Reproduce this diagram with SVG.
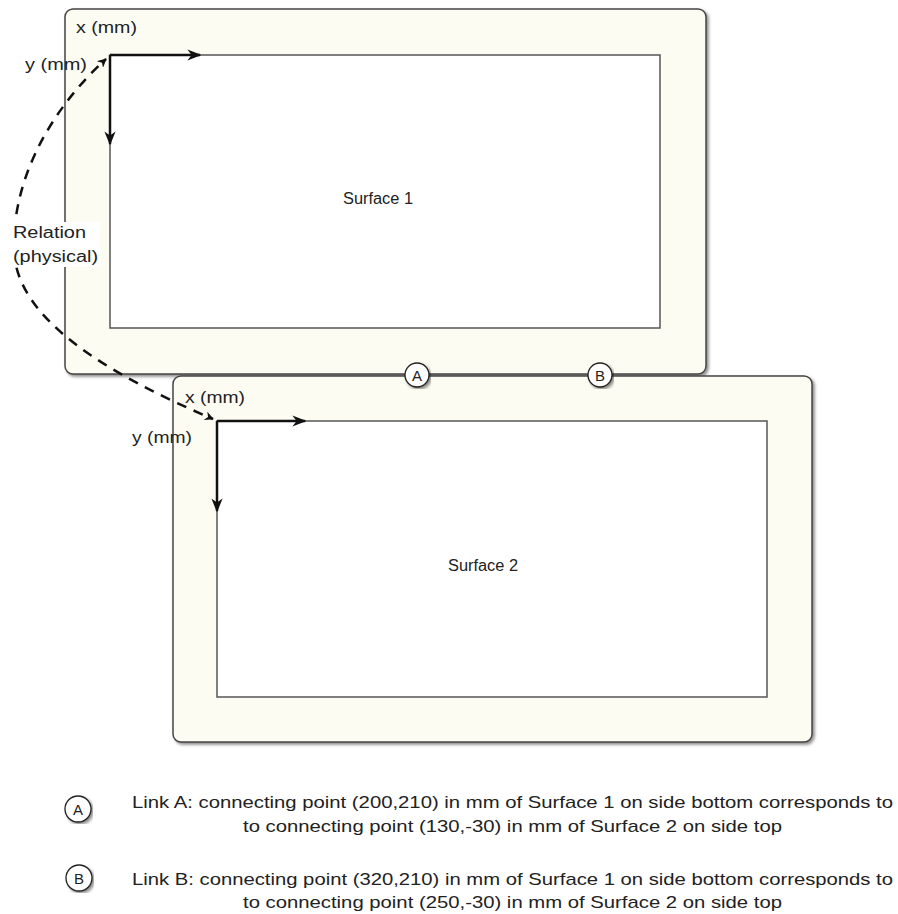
<svg xmlns="http://www.w3.org/2000/svg" width="898" height="914" viewBox="0 0 898 914">
<defs>
<filter id="sh" x="-5%" y="-5%" width="110%" height="110%">
<feDropShadow dx="2" dy="2" stdDeviation="1.5" flood-color="#000" flood-opacity="0.45"/>
</filter>
<marker id="ah" viewBox="0 0 10 10" refX="9" refY="5" markerWidth="9" markerHeight="9" orient="auto" markerUnits="userSpaceOnUse">
<path d="M0,0 L10,5 L0,10 L3,5 Z" fill="#111"/>
</marker>
<marker id="ax" viewBox="0 0 10 10" refX="9" refY="5" markerWidth="14" markerHeight="14" orient="auto" markerUnits="userSpaceOnUse">
<path d="M0,1 L10,5 L0,9 L3,5 Z" fill="#111"/>
</marker>
</defs>
<style>
.outer{fill:#fdfcf3;stroke:#444;stroke-width:1.5}
.inner{fill:#fff;stroke:#555;stroke-width:1.5}
.axis{stroke:#111;stroke-width:2.5;fill:none}
.t{font-family:"Liberation Sans",Arial,sans-serif;font-size:16px;fill:#222}
.lg{font-family:"Liberation Sans",Arial,sans-serif;font-size:17px;fill:#222}
.cl{font-family:"Liberation Sans",Arial,sans-serif;font-size:15px;fill:#222}
.circ{fill:#fff;stroke:#222;stroke-width:1.3}
.dash{fill:none;stroke:#111;stroke-width:2.5;stroke-dasharray:10,8}
</style>
<g id="surface1">
<rect class="outer" x="65" y="9" width="641" height="365" rx="8" filter="url(#sh)"/>
<rect class="inner" x="110" y="55" width="550" height="273"/>
<text class="t" x="343" y="204" textLength="70" lengthAdjust="spacingAndGlyphs">Surface 1</text>
<line class="axis" x1="110" y1="55" x2="200" y2="55" marker-end="url(#ax)"/>
<line class="axis" x1="110" y1="55" x2="110" y2="144" marker-end="url(#ax)"/>
<text class="t" x="76" y="33" textLength="61" lengthAdjust="spacingAndGlyphs">x (mm)</text>
<text class="t" x="25" y="70" textLength="62" lengthAdjust="spacingAndGlyphs">y (mm)</text>
</g>
<g id="surface2">
<rect class="outer" x="173" y="376" width="639" height="366" rx="8" filter="url(#sh)"/>
<rect class="inner" x="217" y="421" width="550" height="276"/>
<text class="t" x="448" y="571" textLength="70" lengthAdjust="spacingAndGlyphs">Surface 2</text>
<line class="axis" x1="217" y1="421" x2="305" y2="421" marker-end="url(#ax)"/>
<line class="axis" x1="217" y1="421" x2="217" y2="511" marker-end="url(#ax)"/>
<text class="t" x="185" y="403" textLength="60" lengthAdjust="spacingAndGlyphs">x (mm)</text>
<text class="t" x="132" y="443" textLength="60" lengthAdjust="spacingAndGlyphs">y (mm)</text>
</g>
<g id="connectors">
<path class="dash" d="M14,250 C12,180 50,110 106,59" marker-end="url(#ah)"/>
<path class="dash" d="M14,250 C16,320 110,375 213,419" marker-end="url(#ah)"/>
</g>
<g id="relation-label">
<rect x="10" y="222" width="90" height="45" fill="#fff"/>
<text class="t" x="13" y="238" textLength="73" lengthAdjust="spacingAndGlyphs">Relation</text>
<text class="t" x="13" y="262" textLength="85" lengthAdjust="spacingAndGlyphs">(physical)</text>
</g>
<g id="pointA">
<circle class="circ" cx="417" cy="375" r="12" filter="url(#sh)"/>
<text class="cl" x="417" y="380.5" text-anchor="middle">A</text>
</g>
<g id="pointB">
<circle class="circ" cx="600" cy="375" r="12" filter="url(#sh)"/>
<text class="cl" x="600" y="380.5" text-anchor="middle">B</text>
</g>
<g id="legendA">
<circle class="circ" cx="78" cy="809" r="13" filter="url(#sh)"/>
<text class="cl" x="78" y="814.5" text-anchor="middle">A</text>
<text class="lg" x="132" y="808" textLength="761" lengthAdjust="spacingAndGlyphs">Link A: connecting point (200,210) in mm of Surface 1 on side bottom corresponds to</text>
<text class="lg" x="243" y="832" textLength="539" lengthAdjust="spacingAndGlyphs">to connecting point (130,-30) in mm of Surface 2 on side top</text>
</g>
<g id="legendB">
<circle class="circ" cx="79" cy="878" r="13" filter="url(#sh)"/>
<text class="cl" x="79" y="883.5" text-anchor="middle">B</text>
<text class="lg" x="132" y="885" textLength="761" lengthAdjust="spacingAndGlyphs">Link B: connecting point (320,210) in mm of Surface 1 on side bottom corresponds to</text>
<text class="lg" x="243" y="908" textLength="539" lengthAdjust="spacingAndGlyphs">to connecting point (250,-30) in mm of Surface 2 on side top</text>
</g>
</svg>
